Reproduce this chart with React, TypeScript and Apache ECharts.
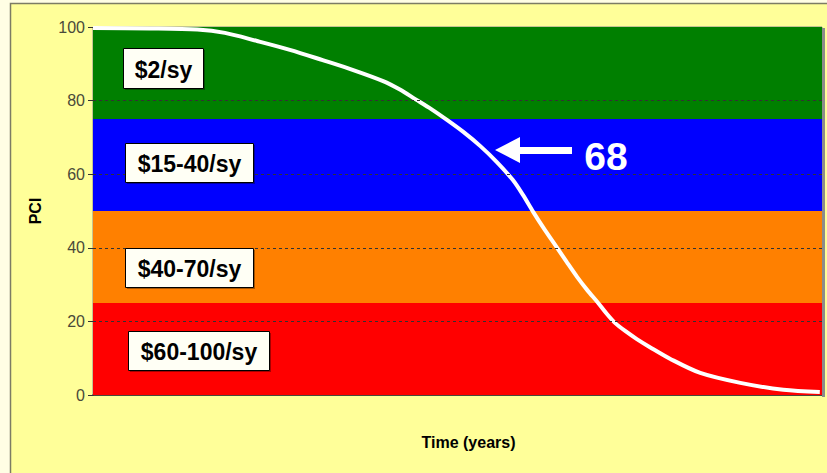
import React, { useEffect, useRef } from "react";
import * as echarts from "echarts";

// Time (percent of life, no labels on the axis) and PCI of the deterioration curve
const timeValues = [0, 7.8, 14.3, 18.1, 22.5, 27.0, 31.5, 35.7, 39.8, 42.1, 44.2, 46.4, 48.6, 50.8, 53.1, 55.4, 57.6, 59.0, 60.4, 62.0, 63.6, 65.0, 66.4, 67.8, 69.3, 70.5, 71.6, 73.0, 74.6, 76.4, 79.2, 83.3, 88.8, 94.7, 99.7];
const pciValues = [99.7, 99.6, 99.3, 98.4, 96.2, 93.8, 91.0, 88.3, 85.3, 83.0, 80.4, 77.7, 74.7, 71.5, 67.7, 63.3, 58.4, 54.3, 49.7, 44.8, 40.2, 36.1, 32.1, 28.5, 25.0, 22.0, 19.6, 17.4, 15.2, 13.0, 9.8, 6.0, 3.3, 1.4, 0.8];

// Condition bands (PCI ranges) and their treatment cost labels
const bandLows = [75, 50, 25, 0];
const bandHighs = [100, 75, 50, 25];
const bandColors = ["#007f00", "#0000ff", "#ff8000", "#ff0000"];
const bandLabels = ["$2/sy", "$15-40/sy", "$40-70/sy", "$60-100/sy"];

const gridLines = [20, 40, 60, 80];
const calloutValue = "68";

const FONT = "'Liberation Sans', Arial, sans-serif";

export default function App() {
  const ref = useRef<HTMLDivElement>(null);

  useEffect(() => {
    if (!ref.current) return;
    const chart = echarts.init(ref.current, null, { renderer: "svg" });

    const curveData = timeValues.map((t, i) => [t, pciValues[i]]);

    // label box geometry (annotation placement)
    const boxes = [
      { x: 123.5, y: 48.5, w: 80, h: 40 },
      { x: 125.5, y: 143.5, w: 128, h: 39 },
      { x: 125.5, y: 248.5, w: 128, h: 39 },
      { x: 128.5, y: 331.5, w: 141, h: 39 },
    ];

    const labelElements: any[] = [];
    bandLabels.forEach((txt, i) => {
      const b = boxes[i];
      labelElements.push({
        type: "rect",
        z: 100,
        shape: { x: b.x + 1.5, y: b.y + 1.5, width: b.w, height: b.h },
        style: { fill: "rgba(0,0,0,0.35)" },
      });
      labelElements.push({
        type: "rect",
        z: 101,
        shape: { x: b.x, y: b.y, width: b.w, height: b.h },
        style: { fill: "#fffff5", stroke: "#000", lineWidth: 1 },
      });
      labelElements.push({
        type: "text",
        z: 102,
        x: b.x + b.w / 2,
        y: b.y + b.h / 2 + 1,
        style: {
          text: txt,
          fontSize: 23,
          fontWeight: "bold",
          fontFamily: FONT,
          fill: "#000",
          align: "center",
          verticalAlign: "middle",
          textAlign: "center",
          textVerticalAlign: "middle",
        },
      });
    });

    chart.setOption({
      animation: false,
      backgroundColor: "#fffee4",
      grid: {
        left: 93,
        top: 27,
        right: 5,
        bottom: 78,
        show: true,
        borderColor: "#8a8a8a",
        borderWidth: 1,
        backgroundColor: "transparent",
      },
      xAxis: {
        type: "value",
        min: 0,
        max: 100,
        axisLabel: { show: false },
        axisTick: { show: false },
        splitLine: { show: false },
        axisLine: { show: true, lineStyle: { color: "#222", width: 1.5 } },
        name: "Time (years)",
        nameLocation: "middle",
        nameGap: 39,
        nameTextStyle: {
          fontFamily: FONT,
          fontWeight: "bold",
          fontSize: 16,
          color: "#000",
          padding: [0, 0, 0, 22],
        },
      },
      yAxis: {
        type: "value",
        min: 0,
        max: 100,
        interval: 20,
        splitLine: { show: false },
        axisLine: { show: true, lineStyle: { color: "#333" } },
        axisTick: { show: true, length: 5, lineStyle: { color: "#333" } },
        axisLabel: { fontFamily: FONT, fontSize: 16, color: "#4a4a3a", margin: 8 },
        name: "PCI",
        nameLocation: "middle",
        nameRotate: 90,
        nameGap: 50,
        nameTextStyle: { fontFamily: FONT, fontWeight: "bold", fontSize: 16, color: "#000" },
      },
      series: [
        {
          type: "line",
          z: 1,
          data: curveData,
          showSymbol: false,
          silent: true,
          lineStyle: { opacity: 0 },
          markArea: {
            silent: true,
            data: bandLows.map((lo, i) => [
              { yAxis: lo, itemStyle: { color: bandColors[i], opacity: 1 } },
              { yAxis: bandHighs[i] },
            ]),
          },
        },
        {
          type: "line",
          z: 2,
          data: curveData,
          showSymbol: false,
          silent: true,
          lineStyle: { opacity: 0 },
          markLine: {
            silent: true,
            symbol: "none",
            label: { show: false },
            lineStyle: { color: "#333", type: [3, 3], width: 1 },
            data: gridLines.map((v) => ({ yAxis: v })),
          },
        },
        {
          type: "line",
          z: 3,
          data: curveData,
          smooth: 0.3,
          showSymbol: false,
          silent: true,
          lineStyle: { color: "#ffffff", width: 4 },
        },
      ],
      graphic: [
        {
          type: "rect",
          z: -100,
          shape: { x: 10.5, y: 3.5, width: 830, height: 480 },
          style: { fill: "#ffff99", stroke: "#7c7c64", lineWidth: 1.5 },
        },
        {
          type: "rect",
          z: 50,
          shape: { x: 822, y: 28, width: 3, height: 369 },
          style: { fill: "#8c8c8c" },
        },
        ...labelElements,
        {
          type: "polygon",
          z: 100,
          shape: {
            points: [
              [495, 150],
              [520, 137],
              [520, 147],
              [572, 147],
              [572, 154],
              [520, 154],
              [520, 163],
            ],
          },
          style: { fill: "#ffffff" },
        },
        {
          type: "text",
          z: 100,
          x: 606,
          y: 156,
          style: {
            text: calloutValue,
            fontSize: 39,
            fontWeight: "bold",
            fontFamily: FONT,
            fill: "#ffffff",
            align: "center",
            verticalAlign: "middle",
            textAlign: "center",
            textVerticalAlign: "middle",
          },
        },
      ],
    });

    return () => chart.dispose();
  }, []);

  return (
    <div
      ref={ref}
      style={{ position: "absolute", left: 0, top: 0, width: 827, height: 473 }}
    />
  );
}
